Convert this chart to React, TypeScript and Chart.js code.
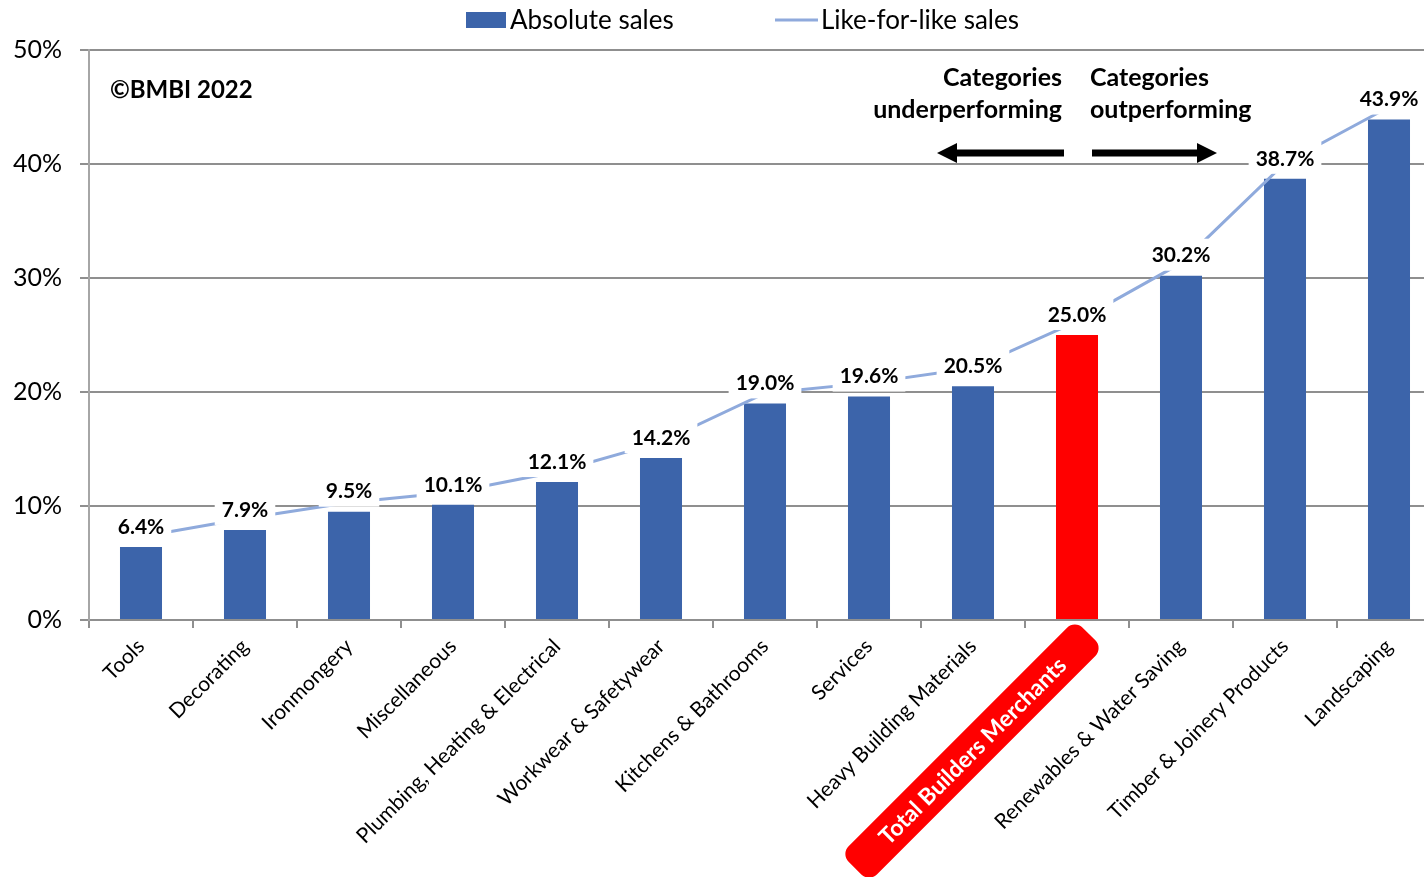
import React, { useEffect, useRef } from 'react';
import { Chart, registerables } from 'chart.js';

Chart.register(...registerables);

const categories = [
  'Tools',
  'Decorating',
  'Ironmongery',
  'Miscellaneous',
  'Plumbing, Heating & Electrical',
  'Workwear & Safetywear',
  'Kitchens & Bathrooms',
  'Services',
  'Heavy Building Materials',
  'Total Builders Merchants',
  'Renewables & Water Saving',
  'Timber & Joinery Products',
  'Landscaping',
];
const absoluteSales = [6.4, 7.9, 9.5, 10.1, 12.1, 14.2, 19.0, 19.6, 20.5, 25.0, 30.2, 38.7, 43.9];
const likeForLikeSales = [7.3, 8.9, 10.3, 11.2, 13.0, 15.6, 19.9, 20.8, 22.1, 26.2, 31.3, 40.1, 45.0];
const yTicks = [0, 10, 20, 30, 40, 50];
const highlightCategory = 'Total Builders Merchants';
const legendLabels = ['Absolute sales', 'Like-for-like sales'];
const copyrightText = '©BMBI 2022';
const underText = ['Categories', 'underperforming'];
const outText = ['Categories', 'outperforming'];

const FONT = 'Lato, "Open Sans", sans-serif';
const BLUE = '#3C64AA';
const RED = '#FF0000';
const LINE = '#8FAADC';
const GRID = '#8f8f8f';

const highlightIndex = categories.indexOf(highlightCategory);

function drawArrow(ctx: CanvasRenderingContext2D, x0: number, x1: number, y: number) {
  const dir = Math.sign(x1 - x0);
  const headLen = 20;
  const headHalf = 10;
  const shaft = 3.5;
  ctx.beginPath();
  ctx.moveTo(x0, y - shaft);
  ctx.lineTo(x1 - dir * headLen, y - shaft);
  ctx.lineTo(x1 - dir * headLen, y - headHalf);
  ctx.lineTo(x1, y);
  ctx.lineTo(x1 - dir * headLen, y + headHalf);
  ctx.lineTo(x1 - dir * headLen, y + shaft);
  ctx.lineTo(x0, y + shaft);
  ctx.closePath();
  ctx.fill();
}

const overlayPlugin = {
  id: 'overlay',
  afterDatasetsDraw(chart: any) {
    const ctx: CanvasRenderingContext2D = chart.ctx;
    const meta = chart.getDatasetMeta(0);
    ctx.save();
    ctx.font = `bold 21px ${FONT}`;
    ctx.textAlign = 'center';
    ctx.textBaseline = 'middle';
    meta.data.forEach((bar: any, i: number) => {
      const text = absoluteSales[i].toFixed(1) + '%';
      const w = ctx.measureText(text).width;
      const cx = bar.x;
      const cy = bar.y - 21;
      ctx.fillStyle = '#ffffff';
      ctx.fillRect(cx - w / 2 - 7, cy - 16, w + 14, 32);
      ctx.fillStyle = '#000000';
      ctx.fillText(text, cx, cy + 1);
    });
    ctx.restore();
  },
  afterDraw(chart: any) {
    const ctx: CanvasRenderingContext2D = chart.ctx;
    const xs = chart.scales.x;
    ctx.save();

    // Legend
    ctx.fillStyle = BLUE;
    ctx.fillRect(466, 12, 40, 16);
    ctx.font = `26px ${FONT}`;
    ctx.textBaseline = 'middle';
    ctx.textAlign = 'left';
    ctx.fillStyle = '#000';
    ctx.fillText(legendLabels[0], 510, 21);
    ctx.strokeStyle = LINE;
    ctx.lineWidth = 3;
    ctx.beginPath();
    ctx.moveTo(775, 20);
    ctx.lineTo(818, 20);
    ctx.stroke();
    ctx.fillText(legendLabels[1], 821, 21);

    // Copyright
    ctx.font = `bold 24px ${FONT}`;
    ctx.fillText(copyrightText, 110, 90);

    // Category annotations
    ctx.font = `bold 25px ${FONT}`;
    ctx.textAlign = 'right';
    ctx.fillText(underText[0], 1062, 78);
    ctx.fillText(underText[1], 1062, 110);
    ctx.textAlign = 'left';
    ctx.fillText(outText[0], 1090, 78);
    ctx.fillText(outText[1], 1090, 110);
    ctx.fillStyle = '#000';
    drawArrow(ctx, 1064, 937, 153);
    drawArrow(ctx, 1092, 1217, 153);

    // Highlighted category label
    if (highlightIndex >= 0) {
      const tx = xs.getPixelForTick(highlightIndex);
      const ty = xs.top;
      ctx.save();
      ctx.beginPath();
      ctx.rect(0, ty + 1, chart.width, chart.height);
      ctx.clip();
      ctx.translate(tx + 12, ty + 14);
      ctx.rotate(-Math.PI / 4);
      ctx.fillStyle = RED;
      ctx.beginPath();
      (ctx as any).roundRect(-331, -20, 331, 40, 11);
      ctx.fill();
      ctx.fillStyle = '#fff';
      ctx.font = `bold 23px ${FONT}`;
      ctx.textAlign = 'center';
      ctx.textBaseline = 'middle';
      ctx.fillText(highlightCategory, -165, 1);
      ctx.restore();
    }
    ctx.restore();
  },
};

export default function App() {
  const ref = useRef<HTMLCanvasElement | null>(null);

  useEffect(() => {
    if (!ref.current) return;
    const chart = new Chart(ref.current, {
      type: 'bar',
      data: {
        labels: categories,
        datasets: [
          {
            type: 'bar',
            label: legendLabels[0],
            data: absoluteSales,
            backgroundColor: categories.map((_, i) => (i === highlightIndex ? RED : BLUE)),
            barPercentage: 0.404,
            categoryPercentage: 1,
            order: 2,
          },
          {
            type: 'line',
            label: legendLabels[1],
            data: likeForLikeSales,
            borderColor: LINE,
            borderWidth: 3,
            pointRadius: 0,
            tension: 0,
            fill: false,
            order: 1,
          } as any,
        ],
      },
      options: {
        responsive: false,
        animation: false,
        layout: { padding: { top: 50, right: 0, left: 0, bottom: 0 } },
        plugins: {
          legend: { display: false },
          tooltip: { enabled: false },
          title: { display: false },
        },
        scales: {
          x: {
            afterFit: (s: any) => {
              s.height = 257;
              s.paddingLeft = 0;
              s.paddingRight = 0;
            },
            grid: {
              display: true,
              drawOnChartArea: false,
              drawTicks: true,
              tickLength: 8,
              color: GRID,
              lineWidth: 2,
            },
            border: { color: GRID, width: 2 },
            ticks: {
              autoSkip: false,
              minRotation: 45,
              maxRotation: 45,
              padding: 6,
              color: (c: any) => (c.index === highlightIndex ? 'rgba(0,0,0,0)' : '#000'),
              font: { family: FONT, size: 21 },
            },
          },
          y: {
            min: yTicks[0],
            max: yTicks[yTicks.length - 1],
            afterFit: (s: any) => {
              s.width = 89;
              s.paddingTop = 0;
              s.paddingBottom = 0;
            },
            afterBuildTicks: (s: any) => {
              s.ticks = yTicks.map((v) => ({ value: v }));
            },
            grid: { color: GRID, lineWidth: 2, tickLength: 9 },
            border: { color: '#a6a6a6', width: 2 },
            ticks: {
              padding: 18,
              color: '#000',
              font: { family: FONT, size: 25 },
              callback: (v: any) => v + '%',
            },
          },
        },
      },
      plugins: [overlayPlugin],
    });
    return () => chart.destroy();
  }, []);

  return (
    <div
      style={{
        position: 'fixed',
        left: 0,
        top: 0,
        width: 1424,
        height: 877,
        overflow: 'hidden',
        background: '#fff',
      }}
    >
      <canvas ref={ref} width={1441} height={877} style={{ display: 'block' }} />
    </div>
  );
}
